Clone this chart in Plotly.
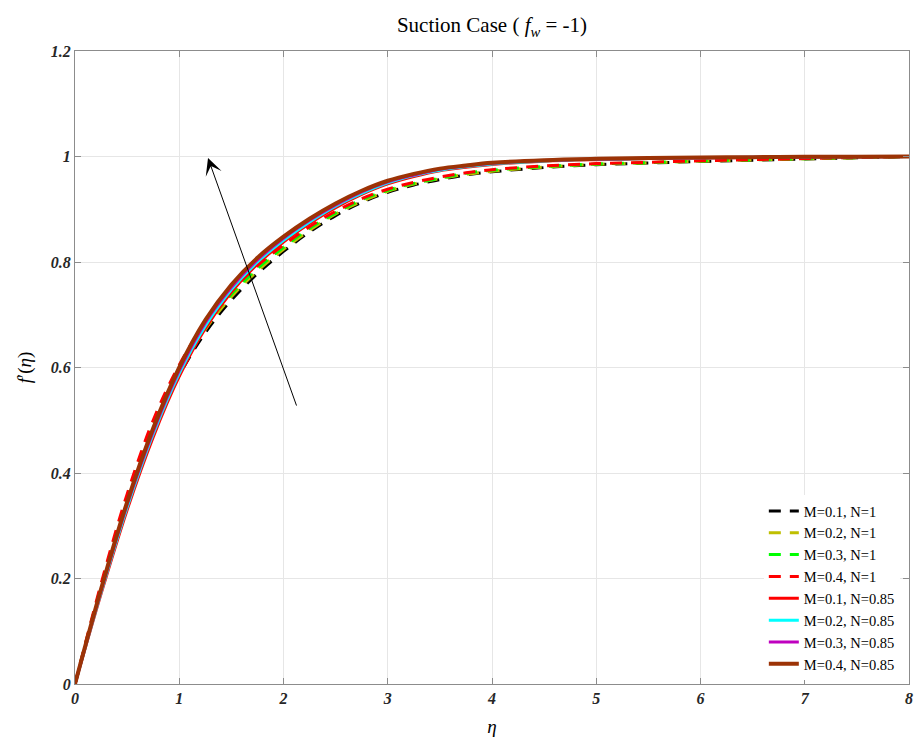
import plotly.graph_objects as go

eta = [0, 0.25, 0.5, 0.75, 1.0, 1.25, 1.5, 1.75, 2.0, 2.25, 2.5, 2.75, 3.0, 3.25, 3.5, 3.75,
       4.0, 4.5, 5.0, 5.5, 6.0, 6.5, 7.0, 7.5, 8.0]

# N = 1 (dashed)
f_M01_N1 = [0, .178, .341, .478, .585, .666, .728, .778, .820, .857, .888, .913, .932, .946,
            .956, .965, .971, .979, .9845, .9875, .9907, .993, .9953, .9976, 1.0]
f_M02_N1 = [0, .182, .347, .485, .592, .672, .734, .783, .824, .860, .891, .915, .934, .948,
            .958, .966, .972, .980, .9852, .988, .9911, .9933, .9955, .9977, 1.0]
f_M03_N1 = [0, .186, .354, .493, .598, .679, .739, .788, .828, .864, .893, .918, .936, .949,
            .959, .968, .974, .981, .9858, .9885, .9916, .9937, .9958, .9979, 1.0]
f_M04_N1 = [0, .190, .360, .500, .605, .685, .745, .793, .832, .867, .896, .920, .938, .951,
            .961, .969, .975, .982, .9865, .989, .992, .994, .996, .998, 1.0]
# N = 0.85 (solid)
f_M01_N085 = [0, .171, .330, .468, .583, .674, .743, .796, .838, .873, .903, .928, .948, .962,
              .973, .9795, .985, .991, .994, .996, .9972, .9983, .999, .9996, 1.0]
f_M02_N085 = [0, .174, .335, .474, .589, .679, .748, .800, .841, .876, .906, .930, .950, .964,
              .974, .981, .986, .9917, .9945, .9963, .9975, .9985, .9991, .9996, 1.0]
f_M03_N085 = [0, .177, .340, .479, .594, .685, .752, .804, .845, .879, .908, .933, .952, .965,
              .976, .982, .987, .9923, .995, .9967, .9977, .9986, .9992, .9997, 1.0]
f_M04_N085 = [0, .180, .345, .485, .600, .690, .757, .808, .848, .882, .911, .935, .954, .967,
              .977, .983, .988, .993, .9955, .997, .998, .9988, .9993, .9997, 1.0]

labels = ["M=0.1, N=1", "M=0.2, N=1", "M=0.3, N=1", "M=0.4, N=1",
          "M=0.1, N=0.85", "M=0.2, N=0.85", "M=0.3, N=0.85", "M=0.4, N=0.85"]
series = [f_M01_N1, f_M02_N1, f_M03_N1, f_M04_N1,
          f_M01_N085, f_M02_N085, f_M03_N085, f_M04_N085]
colors = ["#000000", "#bfbf00", "#00ff00", "#ff0000",
          "#ff0000", "#00ffff", "#bf00bf", "#9c3306"]
dashes = ["12px,9px"] * 4 + ["solid"] * 4
widths = [3, 3, 3, 3, 3, 3, 3, 4]

xticks = [0, 1, 2, 3, 4, 5, 6, 7, 8]
yticks = [0, 0.2, 0.4, 0.6, 0.8, 1.0, 1.2]
yticklabels = ["0", "0.2", "0.4", "0.6", "0.8", "1", "1.2"]

arrow_tail = (2.13, 0.525)
arrow_head = (1.276, 0.997)

SERIF = "Liberation Serif"

fig = go.Figure()
for lab, ys, c, d, w in zip(labels, series, colors, dashes, widths):
    fig.add_trace(go.Scatter(x=eta, y=ys, mode="lines", name=lab,
                             line=dict(color=c, dash=d, width=w, shape="spline", smoothing=1.0)))

fig.add_annotation(x=arrow_head[0], y=arrow_head[1], ax=arrow_tail[0], ay=arrow_tail[1],
                   xref="x", yref="y", axref="x", ayref="y", text="",
                   showarrow=True, arrowhead=3, arrowsize=2.8, arrowwidth=1,
                   arrowcolor="#000000", standoff=0)

tickfont = dict(family=SERIF, size=16, weight="bold", style="italic", color="#262626")
axis_common = dict(showgrid=True, gridcolor="#e6e6e6", gridwidth=1,
                   showline=True, linecolor="#8c8c8c", linewidth=1, mirror="ticks",
                   ticks="inside", ticklen=6, tickcolor="#8c8c8c",
                   zeroline=False, tickfont=tickfont, automargin=False)

fig.update_layout(
    width=918, height=737,
    margin=dict(l=75, r=9, t=51, b=53),
    paper_bgcolor="white", plot_bgcolor="white",
    title=dict(text="Suction Case ( <i>f</i><sub><i>w</i></sub> = -1)",
               x=(75 + 909) / 2 / 918, xanchor="center",
               y=1 - 25 / 737, yanchor="middle", yref="container",
               font=dict(family=SERIF, size=21, color="#000000")),
    xaxis=dict(range=[0, 8], tickvals=xticks, ticktext=[str(t) for t in xticks],
               title=dict(text="<i>η</i>", font=dict(family=SERIF, size=19, color="#000000"),
                          standoff=24),
               **axis_common),
    yaxis=dict(range=[0, 1.2], tickvals=yticks, ticktext=yticklabels,
               title=dict(text="<i>f</i>′(<i>η</i>)", font=dict(family=SERIF, size=19, color="#000000"),
                          standoff=14),
               **axis_common),
    legend=dict(x=0.989, y=0.2986, xanchor="right", yanchor="top",
                bgcolor="white", borderwidth=0,
                font=dict(family=SERIF, size=14.5, color="#000000"),
                tracegroupgap=0),
    showlegend=True,
)

fig.write_html("out.html")
